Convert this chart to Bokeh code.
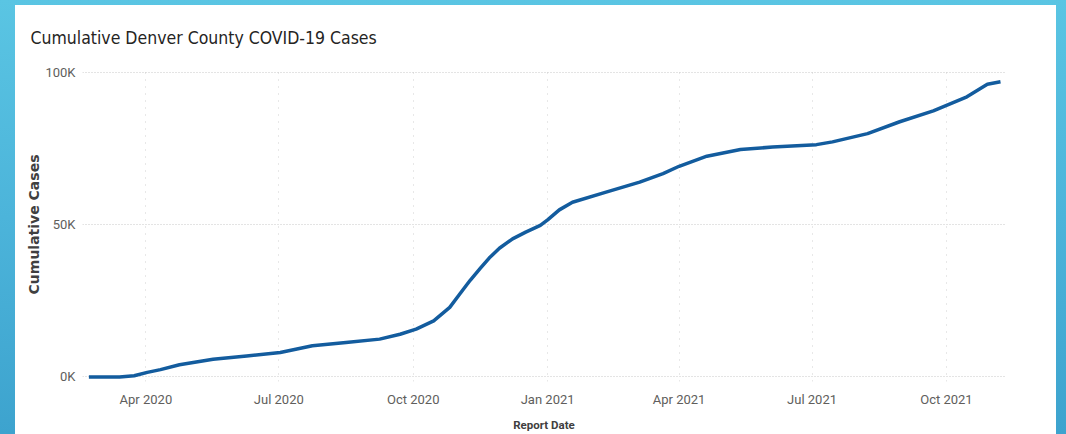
import pandas as pd
from bokeh.plotting import figure
from bokeh.models import Range1d, FixedTicker, DatetimeTickFormatter, Spacer
from bokeh.layouts import row, column
from bokeh.embed import file_html
from bokeh.resources import INLINE

title_text = "Cumulative Denver County COVID-19 Cases"
x_label = "Report Date"
y_label = "Cumulative Cases"

report_dates = ["2020-02-22", "2020-03-14", "2020-03-24", "2020-04-02", "2020-04-11", "2020-04-24",
                "2020-05-17", "2020-06-09", "2020-07-02", "2020-07-24", "2020-08-16", "2020-09-08",
                "2020-09-22", "2020-10-03", "2020-10-15", "2020-10-26", "2020-11-02", "2020-11-09",
                "2020-11-16", "2020-11-22", "2020-11-29", "2020-12-08", "2020-12-17", "2020-12-27",
                "2021-01-01", "2021-01-09", "2021-01-18", "2021-02-10", "2021-03-05", "2021-03-21",
                "2021-04-01", "2021-04-20", "2021-05-13", "2021-06-04", "2021-07-04", "2021-07-15",
                "2021-08-08", "2021-08-30", "2021-09-22", "2021-10-15", "2021-10-29", "2021-11-07"]
cumulative_cases = [0, 0, 400, 1500, 2400, 4000,
                    5800, 6900, 8000, 10200, 11300, 12400,
                    14000, 15700, 18400, 22800, 27300, 31700,
                    35700, 39000, 42200, 45300, 47500, 49700,
                    51500, 54800, 57300, 60600, 63900, 66700,
                    69100, 72400, 74600, 75400, 76200, 77100,
                    79800, 83700, 87300, 91900, 96000, 96800]

x_tick_dates = ["2020-04-01", "2020-07-01", "2020-10-01", "2021-01-01", "2021-04-01", "2021-07-01", "2021-10-01"]
y_ticks = [0, 50000, 100000]
y_tick_labels = ["0K", "50K", "100K"]

x = pd.to_datetime(report_dates)
x_start = pd.Timestamp("2020-02-17 15:00")
x_end = pd.Timestamp("2021-11-10 10:00")

TITLE_FONT = "DejaVu Sans Condensed"
TICK_FONT = "Roboto"

p = figure(width=1041, height=429, x_axis_type="datetime",
           x_range=Range1d(x_start, x_end), y_range=Range1d(-1500, 101500),
           output_backend="svg", toolbar_location=None,
           min_border_left=67, min_border_right=51, min_border_top=62, min_border_bottom=53,
           styles={"background-color": "white"})
p.background_fill_color = "white"
p.border_fill_color = "white"
p.outline_line_color = None

p.line(x, cumulative_cases, line_color="#135C9E", line_width=3.5, line_join="round")

p.title.text = title_text
p.title.text_font = TITLE_FONT
p.title.text_font_size = "17.5px"
p.title.text_font_style = "normal"
p.title.text_color = "#252423"
p.title.align = "left"
p.title.offset = -52
p.title.standoff = 40

xt = [pd.Timestamp(d).value // 10**6 for d in x_tick_dates]
p.xaxis.ticker = FixedTicker(ticks=xt)
fmt = "%b %Y"
p.xaxis.formatter = DatetimeTickFormatter(days=fmt, months=fmt, years=fmt, hours=fmt,
                                          minutes=fmt, seconds=fmt, milliseconds=fmt)
p.yaxis.ticker = FixedTicker(ticks=y_ticks)
p.yaxis.major_label_overrides = {t: l for t, l in zip(y_ticks, y_tick_labels)}

for ax in (p.xaxis, p.yaxis):
    ax.axis_line_color = None
    ax.major_tick_line_color = None
    ax.minor_tick_line_color = None
    ax.major_tick_out = 0
    ax.major_tick_in = 0
    ax.minor_tick_out = 0
    ax.minor_tick_in = 0
    ax.major_label_text_font = TICK_FONT
    ax.major_label_text_font_size = "13px"
    ax.major_label_text_color = "#605E5C"

p.xaxis.major_label_standoff = 10
p.yaxis.major_label_standoff = 7

p.xaxis.axis_label = x_label
p.xaxis.axis_label_text_font = TICK_FONT
p.xaxis.axis_label_text_font_size = "11.5px"
p.xaxis.axis_label_text_font_style = "bold"
p.xaxis.axis_label_text_color = "#404040"
p.xaxis.axis_label_standoff = 8

p.yaxis.axis_label = y_label
p.yaxis.axis_label_text_font = "DejaVu Sans"
p.yaxis.axis_label_text_font_size = "14px"
p.yaxis.axis_label_text_font_style = "bold"
p.yaxis.axis_label_text_color = "#404040"
p.yaxis.axis_label_standoff = 0

p.xgrid.grid_line_color = "#D0D0D0"
p.xgrid.grid_line_dash = "1 6"
p.ygrid.grid_line_color = "#C8C8C8"
p.ygrid.grid_line_dash = "1 2"

bg = "linear-gradient(to bottom, #5AC5E3 0%, #4CB4DA 50%, #3DA3CE 100%)"
inner = row(Spacer(width=15, height=429), p, Spacer(width=10, height=429))
layout = column(Spacer(width=1066, height=5), inner, styles={"background": bg})

open("out.html", "w").write(file_html(layout, INLINE))
